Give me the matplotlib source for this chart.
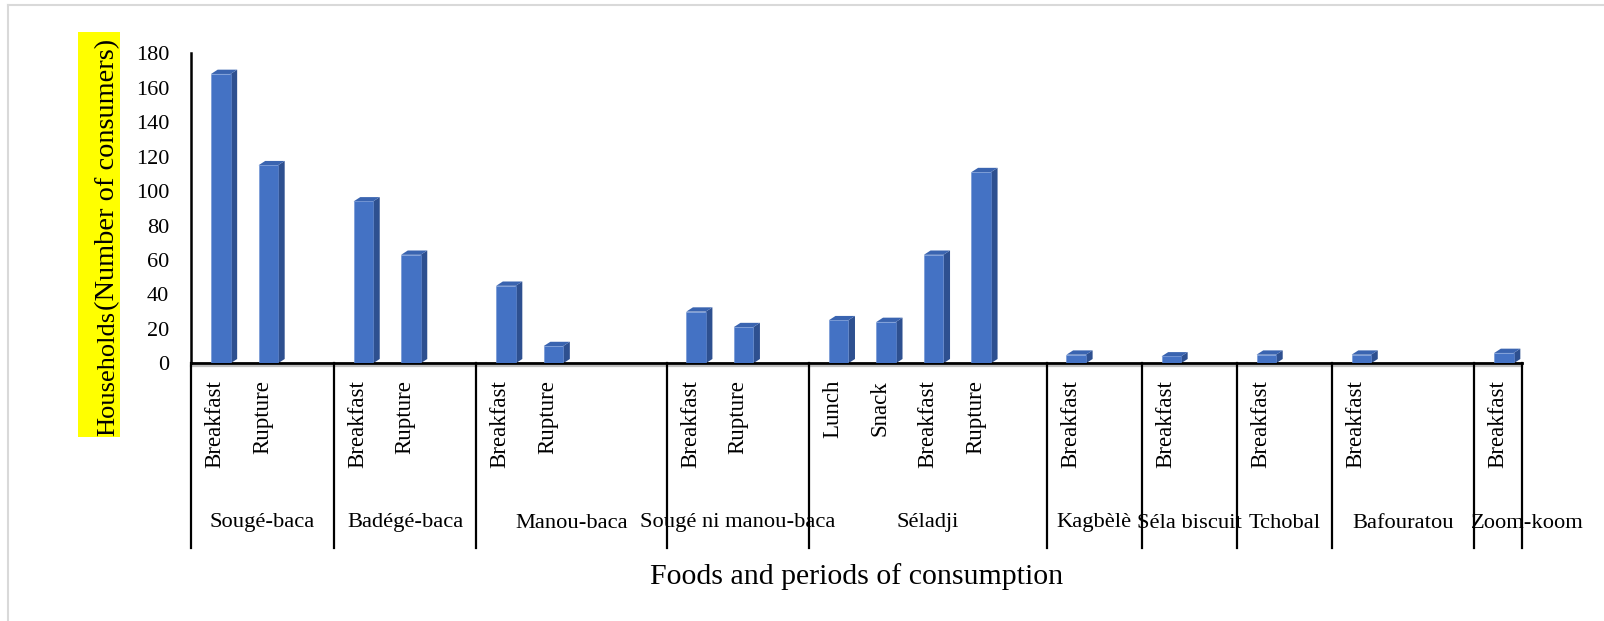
import matplotlib
matplotlib.use("Agg")
import matplotlib.pyplot as plt
from matplotlib.patches import Polygon, Rectangle
from matplotlib.lines import Line2D
from matplotlib.transforms import ScaledTranslation

# ---------------- data ----------------
groups = ["Sougé-baca", "Badégé-baca", "Manou-baca", "Sougé ni manou-baca",
          "Séladji", "Kagbèlè", "Séla biscuit", "Tchobal", "Bafouratou", "Zoom-koom"]
# number of category slots each food occupies on the axis (incl. blank ones)
group_slots = [3, 3, 4, 3, 5, 2, 2, 2, 3, 1]
group_periods = [
    ["Breakfast", "Rupture"],
    ["Breakfast", "Rupture"],
    ["Breakfast", "Rupture"],
    ["Breakfast", "Rupture"],
    ["Lunch", "Snack", "Breakfast", "Rupture"],
    ["Breakfast"],
    ["Breakfast"],
    ["Breakfast"],
    ["Breakfast"],
    ["Breakfast"],
]
group_values = [
    [168, 115],
    [94, 63],
    [45, 10],
    [30, 21],
    [25, 24, 63, 111],
    [5],
    [4],
    [5],
    [5],
    [6],
]
yticks = [0, 20, 40, 60, 80, 100, 120, 140, 160, 180]

# ---------------- style ----------------
FONT = "Liberation Serif"
plt.rcParams["font.family"] = [FONT, "DejaVu Serif"]
FRONT = "#4472C4"
SIDE = "#2E5090"
TOP = "#3A64B0"

W, H = 1604, 621
fig = plt.figure(figsize=(W / 100, H / 100), dpi=100)

def fx(x):
    return x / W

def fy(y):
    return 1 - y / H

ax_left, ax_right = 191.3, 1522.0
ax_top, ax_bot = 53.3, 363.3
ax = fig.add_axes([fx(ax_left), fy(ax_bot), (ax_right - ax_left) / W, (ax_bot - ax_top) / H])

nslots = sum(group_slots)
ax.set_xlim(0, nslots)
ax.set_ylim(0, 180)
ax.set_yticks(yticks)
ax.set_yticklabels([str(t) for t in yticks], fontsize=16, fontfamily=FONT)
ax.tick_params(axis="y", length=0, pad=16)
ax.set_xticks([])
for s in ["top", "right"]:
    ax.spines[s].set_visible(False)
ax.spines["left"].set_linewidth(1.8)
ax.spines["bottom"].set_linewidth(2.0)
ax.spines["left"].set_color("black")
ax.spines["bottom"].set_color("black")
ax.patch.set_alpha(0)

# 3D bar geometry (in data units)
off = 0.12
bw = 0.41
dx = 0.14
dy = 2.5

y_bottom_axes = -(548 - ax_bot) / (ax_bot - ax_top)
per_label_y = -(380 - ax_bot) / (ax_bot - ax_top)
grp_label_y = -(523 - ax_bot) / (ax_bot - ax_top)

trans_x = ax.get_xaxis_transform()

start = 0
ng = len(groups)
for gi, (g, nsl, pers, vals) in enumerate(zip(groups, group_slots, group_periods, group_values)):
    for i, (p, v) in enumerate(zip(pers, vals)):
        s = start + i
        xc = s + 0.5 + off
        ax.bar(xc, v, width=bw, color=FRONT, edgecolor="#6A8FD3", linewidth=0.4, zorder=3)
        xr = xc + bw / 2
        xl = xc - bw / 2
        side = Polygon([(xr, 0), (xr + dx, dy), (xr + dx, v + dy), (xr, v)],
                       closed=True, facecolor=SIDE, edgecolor="none", zorder=2, clip_on=False)
        top = Polygon([(xl, v), (xr, v), (xr + dx, v + dy), (xl + dx, v + dy)],
                      closed=True, facecolor=TOP, edgecolor="none", zorder=2, clip_on=False)
        ax.add_patch(side)
        ax.add_patch(top)
        ax.text(s + 0.5, per_label_y, p, transform=trans_x, rotation=90,
                ha="center", va="top", fontsize=16.5, fontfamily=FONT, clip_on=False)
    if gi == ng - 1:
        # last label overflows its narrow slot: starts at the group's left edge
        ax.text(start - 0.08, grp_label_y, g, transform=trans_x, ha="left", va="center",
                fontsize=16.2, fontfamily=FONT, clip_on=False)
    else:
        ax.text(start + nsl / 2, grp_label_y, g, transform=trans_x, ha="center", va="center",
                fontsize=16.2, fontfamily=FONT, clip_on=False)
    start += nsl

# separators of category groups (including axis ends)
bounds = [0]
for nsl in group_slots:
    bounds.append(bounds[-1] + nsl)
for b in bounds:
    ax.add_line(Line2D([b, b], [0, y_bottom_axes], transform=trans_x, color="black",
                       linewidth=1.6, clip_on=False, zorder=4))

# light floor shadow under x axis line
shadow = ax.transAxes + ScaledTranslation(0, -2.6 / 100, fig.dpi_scale_trans)
ax.add_line(Line2D([0, 1], [0, 0], transform=shadow, color="#BFBFBF", linewidth=1.6,
                   clip_on=False, zorder=1))

# y axis label with yellow background
fig.patches.append(Rectangle((fx(78), fy(436.5)), (120 - 78) / W, (436.5 - 31.7) / H,
                             transform=fig.transFigure, facecolor="#FFFF00",
                             edgecolor="none", zorder=0))
fig.text(fx(114), fy(436), "Households", rotation=90, rotation_mode="anchor",
         ha="left", va="baseline", fontsize=19, fontfamily=FONT)
fig.text(fx(114), fy(310), "(Number of consumers)", rotation=90, rotation_mode="anchor",
         ha="left", va="baseline", fontsize=20.4, fontfamily=FONT)

# x axis title
fig.text(fx(856.5), fy(577), "Foods and periods of consumption", ha="center", va="center",
         fontsize=21.5, fontfamily=FONT)

# outer light border (left and top)
fig.lines.append(Line2D([fx(8), fx(8)], [fy(5), 0], transform=fig.transFigure,
                        color="#D9D9D9", linewidth=1.5))
fig.lines.append(Line2D([fx(8), 1], [fy(5), fy(5)], transform=fig.transFigure,
                        color="#D9D9D9", linewidth=1.5))

fig.savefig("out.png", dpi=100, facecolor="white")
